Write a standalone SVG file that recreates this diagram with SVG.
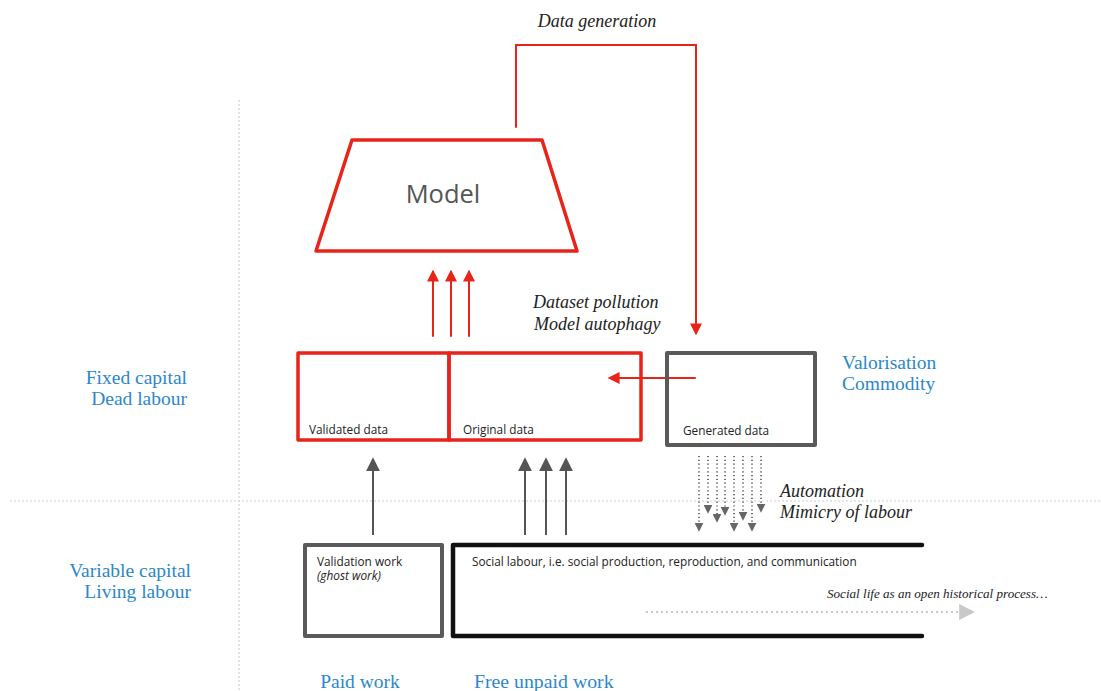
<svg xmlns="http://www.w3.org/2000/svg" width="1101" height="691" viewBox="0 0 1101 691">
<defs>
<style>
.guide{stroke:#d0d0d0;stroke-width:1.2;stroke-dasharray:2 2;fill:none}
.red{stroke:#e8241a;fill:none;stroke-width:3.5;stroke-linejoin:round;stroke-linecap:round}
.redthin{stroke:#e8241a;fill:none;stroke-width:2;stroke-linecap:round}
.gbox{stroke:#5a5a5a;fill:none;stroke-width:4;stroke-linejoin:round}
.bbox{stroke:#111;fill:none;stroke-width:4.5;stroke-linejoin:round;stroke-linecap:round}
.garrow{stroke:#555;stroke-width:2;fill:none}
.dot{stroke:#777;stroke-width:2;stroke-dasharray:1.2 2.6;fill:none}
.lbl{font-family:"Open Sans","Liberation Sans",sans-serif;font-size:11.8px;fill:#222}
.blue{font-family:"Liberation Serif",serif;font-size:19.5px;fill:#2b88c9}
.it{font-family:"Liberation Serif",serif;font-style:italic;font-size:18px;fill:#222}
</style>
<marker id="ar" viewBox="0 0 10 10" refX="8" refY="5" markerWidth="6" markerHeight="6" orient="auto"><path d="M0,0 L10,5 L0,10 z" fill="#e8241a"/></marker>
<marker id="ag" viewBox="0 0 10 10" refX="8" refY="5" markerWidth="7" markerHeight="7" orient="auto"><path d="M0,0 L10,5 L0,10 z" fill="#555"/></marker>
<marker id="ad" viewBox="0 0 10 10" refX="8" refY="5" markerWidth="4.5" markerHeight="4.5" orient="auto"><path d="M0,0 L10,5 L0,10 z" fill="#666"/></marker>
<marker id="al" viewBox="0 0 10 10" refX="8" refY="5" markerWidth="8" markerHeight="8" orient="auto"><path d="M0,0 L10,5 L0,10 z" fill="#c8c8c8"/></marker>
</defs>
<rect width="1101" height="691" fill="#fff"/>

<g id="guides">
<line class="guide" x1="239" y1="100" x2="239" y2="691"/>
<line class="guide" x1="10" y1="501" x2="1100" y2="501"/>
</g>

<g id="axis-labels">
<text class="blue" x="187" y="384" text-anchor="end">Fixed capital</text>
<text class="blue" x="187" y="405" text-anchor="end">Dead labour</text>
<text class="blue" x="191" y="577" text-anchor="end">Variable capital</text>
<text class="blue" x="191" y="598" text-anchor="end">Living labour</text>
<text class="blue" x="360" y="688" text-anchor="middle">Paid work</text>
<text class="blue" x="474" y="688" style="font-size:19.8px">Free unpaid work</text>
<text class="blue" x="842" y="369">Valorisation</text>
<text class="blue" x="842" y="390">Commodity</text>
</g>

<g id="connectors">
<polyline class="redthin" points="516,127 516,45 696,45 696,333" marker-end="url(#ar)"/>
<line class="redthin" x1="695" y1="378" x2="610" y2="378" marker-end="url(#ar)"/>
<line class="redthin" x1="433" y1="336" x2="433" y2="272" marker-end="url(#ar)"/>
<line class="redthin" x1="451" y1="336" x2="451" y2="272" marker-end="url(#ar)"/>
<line class="redthin" x1="469" y1="336" x2="469" y2="272" marker-end="url(#ar)"/>
<line class="garrow" x1="373" y1="535" x2="373" y2="460" marker-end="url(#ag)"/>
<line class="garrow" x1="525" y1="535" x2="525" y2="460" marker-end="url(#ag)"/>
<line class="garrow" x1="546" y1="535" x2="546" y2="460" marker-end="url(#ag)"/>
<line class="garrow" x1="566" y1="535" x2="566" y2="460" marker-end="url(#ag)"/>
<line class="dot" x1="699" y1="456" x2="699" y2="530" marker-end="url(#ad)"/>
<line class="dot" x1="708" y1="456" x2="708" y2="512" marker-end="url(#ad)"/>
<line class="dot" x1="717" y1="456" x2="717" y2="521" marker-end="url(#ad)"/>
<line class="dot" x1="725" y1="456" x2="725" y2="514" marker-end="url(#ad)"/>
<line class="dot" x1="734" y1="456" x2="734" y2="530" marker-end="url(#ad)"/>
<line class="dot" x1="743" y1="456" x2="743" y2="519" marker-end="url(#ad)"/>
<line class="dot" x1="752" y1="456" x2="752" y2="530" marker-end="url(#ad)"/>
<line class="dot" x1="761" y1="456" x2="761" y2="511" marker-end="url(#ad)"/>
<line stroke="#c8c8c8" stroke-width="2" stroke-dasharray="2 3" x1="646" y1="612" x2="972" y2="612" marker-end="url(#al)"/>
</g>

<g id="connector-labels">
<text class="it" x="597" y="27" text-anchor="middle">Data generation</text>
<text class="it" x="533" y="308">Dataset pollution</text>
<text class="it" x="534" y="330">Model autophagy</text>
<text class="it" x="780" y="497">Automation</text>
<text class="it" x="780" y="518">Mimicry of labour</text>
<text class="it" x="827" y="598" style="font-size:13.1px">Social life as an open historical process…</text>
</g>

<g id="model">
<polygon class="red" points="352,140 542,140 577,251 316,251"/>
<text x="443" y="203" text-anchor="middle" font-family="Open Sans, Liberation Sans, sans-serif" font-size="25.5" fill="#555">Model</text>
</g>

<g id="validated-data">
<rect class="red" x="298" y="353" width="151" height="87"/>
<text class="lbl" x="309" y="434">Validated  data</text>
</g>

<g id="original-data">
<rect class="red" x="449" y="353" width="192" height="87"/>
<text class="lbl" x="463" y="434">Original data</text>
</g>

<g id="generated-data">
<rect class="gbox" x="667" y="353" width="148" height="92"/>
<text class="lbl" x="683" y="435">Generated data</text>
</g>

<g id="validation-work">
<rect class="gbox" x="305" y="545" width="137" height="91"/>
<text class="lbl" x="317" y="566">Validation work</text>
<text class="lbl" x="317" y="580" font-style="italic">(ghost work)</text>
</g>

<g id="social-labour">
<polyline class="bbox" points="922,545 453,545 453,636 922,636"/>
<text class="lbl" x="472" y="566">Social labour, i.e. social production, reproduction, and communication</text>
</g>
</svg>
